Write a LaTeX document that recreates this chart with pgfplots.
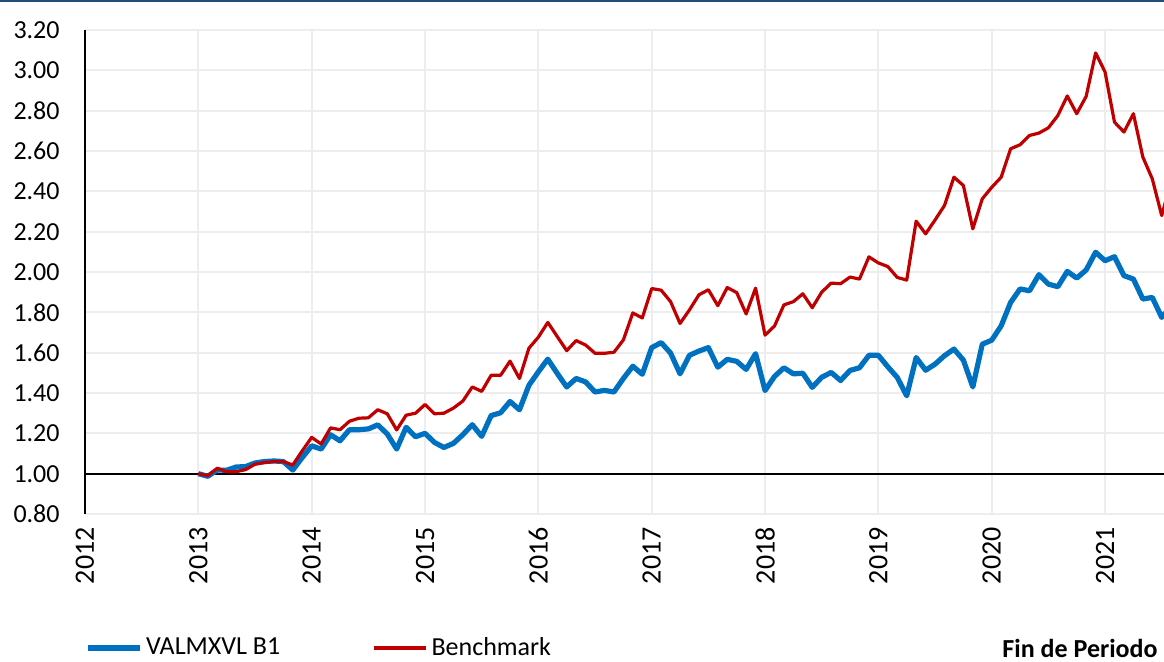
\documentclass[border=0pt]{standalone}
\usepackage{pgfplots}
\pgfplotsset{compat=1.18}
\usepackage{pgfplotstable}
\usepackage{fontspec}
\setmainfont{Carlito}
\definecolor{serA}{HTML}{0070C0}
\definecolor{serB}{HTML}{C00000}
\definecolor{topbar}{HTML}{1F4E79}
\definecolor{gridc}{HTML}{EDEDED}

\pgfplotstableread{
m  fund   bench
0  1.000  1.000
1  0.987  0.990
2  1.018  1.027
3  1.017  1.010
4  1.033  1.010
5  1.035  1.020
6  1.053  1.047
7  1.060  1.055
8  1.063  1.060
9  1.060  1.060
10 1.018  1.043
11 1.080  1.113
12 1.138  1.180
13 1.122  1.147
14 1.193  1.227
15 1.163  1.218
16 1.218  1.260
17 1.218  1.275
18 1.222  1.277
19 1.242  1.317
20 1.197  1.297
21 1.122  1.217
22 1.230  1.290
23 1.183  1.300
24 1.200  1.343
25 1.155  1.297
26 1.130  1.300
27 1.150  1.325
28 1.193  1.360
29 1.243  1.430
30 1.185  1.408
31 1.288  1.488
32 1.302  1.488
33 1.358  1.558
34 1.317  1.472
35 1.438  1.622
36 1.505  1.677
37 1.568  1.750
38 1.497  1.680
39 1.430  1.610
40 1.472  1.660
41 1.455  1.638
42 1.405  1.597
43 1.413  1.597
44 1.405  1.602
45 1.472  1.663
46 1.533  1.797
47 1.493  1.772
48 1.625  1.918
49 1.650  1.910
50 1.598  1.853
51 1.495  1.745
52 1.587  1.812
53 1.608  1.887
54 1.625  1.912
55 1.528  1.833
56 1.567  1.923
57 1.557  1.898
58 1.517  1.792
59 1.595  1.920
60 1.412  1.687
61 1.482  1.732
62 1.525  1.837
63 1.495  1.853
64 1.498  1.892
65 1.428  1.823
66 1.478  1.900
67 1.502  1.945
68 1.462  1.942
69 1.512  1.975
70 1.525  1.965
71 1.587  2.075
72 1.587  2.045
73 1.530  2.027
74 1.477  1.973
75 1.386  1.960
76 1.576  2.252
77 1.513  2.189
78 1.543  2.258
79 1.585  2.330
80 1.618  2.470
81 1.563  2.429
82 1.430  2.214
83 1.642  2.363
84 1.662  2.420
85 1.733  2.470
86 1.849  2.611
87 1.916  2.631
88 1.907  2.677
89 1.987  2.689
90 1.940  2.715
91 1.927  2.776
92 2.003  2.873
93 1.970  2.785
94 2.010  2.871
95 2.098  3.086
96 2.056  2.992
97 2.076  2.743
98 1.982  2.694
99 1.965  2.785
100 1.866 2.570
101 1.874 2.462
102 1.775 2.280
103 1.830 2.450
}\datatable

\begin{document}
\begin{tikzpicture}[font=\fontsize{13}{16}\selectfont]
\path[use as bounding box] (0,0) rectangle (582pt,330.5pt);
\draw[topbar, line width=1.2pt] (0,330.2pt) -- (582pt,330.2pt);
\begin{axis}[
  at={(42.5pt,73.5pt)}, anchor=south west,
  scale only axis, width=539.5pt, height=242pt,
  xmin=2012, xmax=2021.52, ymin=0.8, ymax=3.2,
  xtick={2012,2013,2014,2015,2016,2017,2018,2019,2020,2021},
  ytick={0.8,1.0,1.2,1.4,1.6,1.8,2.0,2.2,2.4,2.6,2.8,3.0,3.2},
  major tick length=0pt,
  grid=major,
  grid style={gridc, line width=1pt},
  separate axis lines,
  axis x line*=bottom, axis y line*=left,
  x axis line style={draw=none},
  y axis line style={black, line width=0.8pt, -},
  /pgf/number format/assume math mode=true,
  x tick label style={/pgf/number format/1000 sep={}, font=\fontsize{14}{17}\selectfont, yshift=-6.5pt, rotate=90, anchor=east, inner sep=0pt},
  y tick label style={/pgf/number format/fixed, /pgf/number format/fixed zerofill, /pgf/number format/precision=2, anchor=east, inner sep=0pt, xshift=-12.5pt},
  legend style={at={(axis description cs:0.0,-0.277)}, anchor=west, draw=none, fill=none, inner sep=0pt, outer sep=0pt, legend columns=2,
    /tikz/every even column/.append style={column sep=44pt}},
  legend cell align=left,
  legend image code/.code={\draw[#1] (0pt,0pt) -- (26pt,0pt);},
]
\addplot[black, line width=1.1pt, forget plot] coordinates {(2012,1) (2021.52,1)};
\addplot[serA, line width=2.6pt, line join=round] table[x expr=2013+\thisrow{m}/12, y=fund] {\datatable};
\addlegendentry{VALMXVL B1}
\addplot[serB, line width=1.6pt, line join=round] table[x expr=2013+\thisrow{m}/12, y=bench] {\datatable};
\addlegendentry{Benchmark}
\end{axis}
\node[anchor=base east, inner sep=0pt, font=\fontsize{13}{16}\selectfont\bfseries] at (579pt,1.8pt) {Fin de Periodo};
\end{tikzpicture}
\end{document}
